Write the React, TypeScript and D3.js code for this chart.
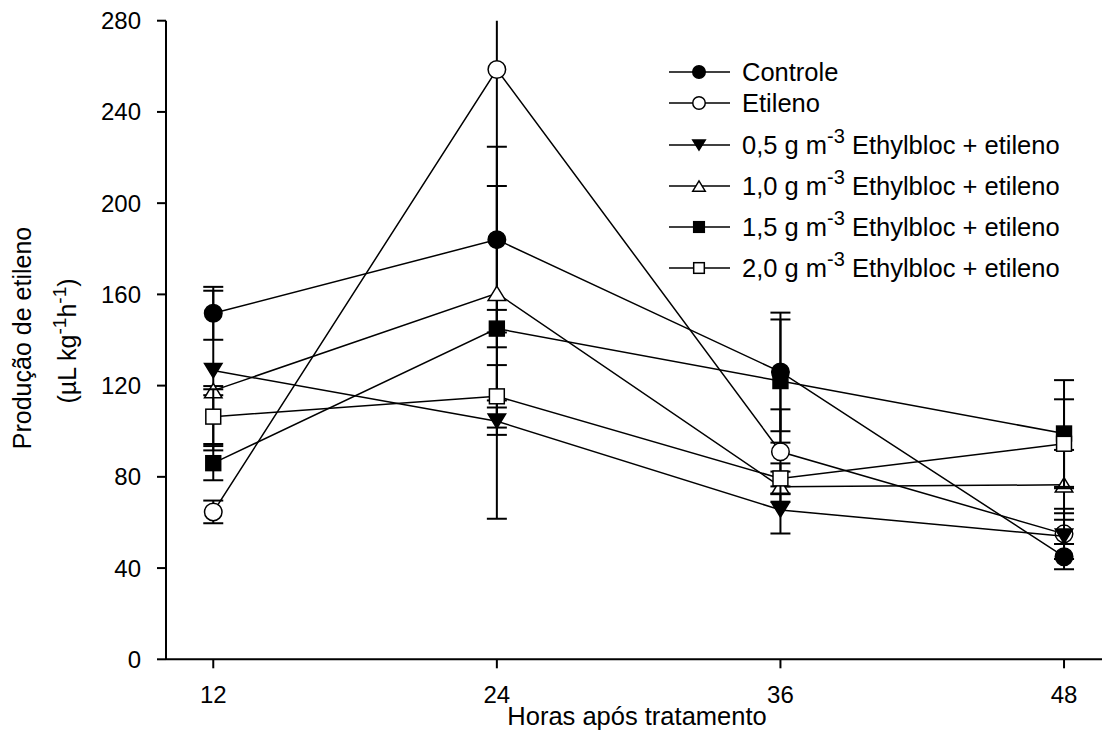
import React from "react";
import * as d3 from "d3";

// hours after treatment
const hours = [12, 24, 36, 48];
const xTicks = [12, 24, 36, 48];
const yTicks = [0, 40, 80, 120, 160, 200, 240, 280];

// ethylene production (uL kg-1 h-1) and standard errors
const controle = [151.7, 184, 126, 45];
const controleErr = [11.6, 40.7, 26, 5.5];
const etileno = [64.6, 258.6, 91, 55];
const etilenoErr = [5, 197, 18.6, 11];
const dose05 = [126.6, 104.4, 65.5, 54];
const dose05Err = [35, 6, 10.3, 10];
const dose10 = [117.8, 160.5, 75.7, 76.5];
const dose10Err = [2, 47, 6.6, 15.3];
const dose15 = [86, 145, 122, 99];
const dose15Err = [7.5, 8.2, 27, 23.4];
const dose20 = [106.4, 115.3, 79.3, 94.5];
const dose20Err = [12, 13.7, 6.6, 19.5];

const doses = ["0,5", "1,0", "1,5", "2,0"];

const series = [
  { name: "Controle", values: controle, err: controleErr, shape: "circle", fill: "#000" },
  { name: "Etileno", values: etileno, err: etilenoErr, shape: "circle", fill: "#fff" },
  { dose: doses[0], values: dose05, err: dose05Err, shape: "down", fill: "#000" },
  { dose: doses[1], values: dose10, err: dose10Err, shape: "up", fill: "#fff" },
  { dose: doses[2], values: dose15, err: dose15Err, shape: "square", fill: "#000" },
  { dose: doses[3], values: dose20, err: dose20Err, shape: "square", fill: "#fff" },
];

const font = "'Liberation Sans', Arial, sans-serif";

function Marker({ shape, fill, x, y, s }) {
  if (shape === "circle") {
    return <circle cx={x} cy={y} r={s / 2} fill={fill} stroke="#000" strokeWidth={1.5} />;
  }
  if (shape === "square") {
    const h = s * 0.85;
    return <rect x={x - h / 2} y={y - h / 2} width={h} height={h} fill={fill} stroke="#000" strokeWidth={1.5} />;
  }
  const w = s;
  const h = s * 0.82;
  const pts =
    shape === "up"
      ? [[x - w / 2, y + h / 2], [x + w / 2, y + h / 2], [x, y - h / 2]]
      : [[x - w / 2, y - h / 2], [x + w / 2, y - h / 2], [x, y + h / 2]];
  return <polygon points={pts.map((p) => p.join(",")).join(" ")} fill={fill} stroke="#000" strokeWidth={1.5} />;
}

export default function App() {
  const x = d3.scaleLinear().domain([10, 50]).range([166, 1111.3]);
  const y = d3.scaleLinear().domain([0, 280]).range([659.3, 20.7]);
  const line = d3
    .line()
    .x((d) => x(d[0]))
    .y((d) => y(d[1]));

  const legendY = [72, 103, 145, 186, 227, 268];

  return (
    <div style={{ position: "absolute", left: 0, top: 0 }}>
      <svg width={1102} height={736} style={{ display: "block", fontFamily: font }}>
        <defs>
          <clipPath id="plot">
            <rect x={150} y={y(280)} width={960} height={y(0) - y(280) + 10} />
          </clipPath>
        </defs>
        <rect width={1102} height={736} fill="#fff" />

        {/* axes */}
        <line x1={166} x2={166} y1={y(0)} y2={y(280)} stroke="#000" strokeWidth={2} />
        <line x1={166} x2={1102} y1={y(0)} y2={y(0)} stroke="#000" strokeWidth={2} />
        {yTicks.map((t) => (
          <g key={"y" + t}>
            <line x1={157} x2={166} y1={y(t)} y2={y(t)} stroke="#000" strokeWidth={2} />
            <text x={141} y={y(t) + 8.5} fontSize={24} textAnchor="end">
              {t}
            </text>
          </g>
        ))}
        {xTicks.map((t) => (
          <g key={"x" + t}>
            <line x1={x(t)} x2={x(t)} y1={y(0)} y2={y(0) + 9} stroke="#000" strokeWidth={2} />
            <text x={x(t)} y={703} fontSize={24} textAnchor="middle">
              {t}
            </text>
          </g>
        ))}

        <text x={637} y={725} fontSize={25.5} textAnchor="middle">
          Horas após tratamento
        </text>
        <text transform="translate(31,338) rotate(-90)" fontSize={25} textAnchor="middle">
          Produção de etileno
        </text>
        <text transform="translate(76,341) rotate(-90)" fontSize={25} textAnchor="middle">
          (µL kg
          <tspan fontSize={19} dy={-10}>-1</tspan>
          <tspan dy={10}>h</tspan>
          <tspan fontSize={19} dy={-10}>-1</tspan>
          <tspan dy={10}>)</tspan>
        </text>

        {/* series */}
        <g clipPath="url(#plot)">
          {series.map((s, i) => (
            <g key={i}>
              {hours.map((h, j) => {
                const lo = s.values[j] - s.err[j];
                const hi = s.values[j] + s.err[j];
                return (
                  <g key={j} stroke="#000" strokeWidth={2}>
                    <line x1={x(h)} x2={x(h)} y1={y(lo)} y2={y(hi)} />
                    <line x1={x(h) - 10} x2={x(h) + 10} y1={y(lo)} y2={y(lo)} />
                    {hi <= 280 && <line x1={x(h) - 10} x2={x(h) + 10} y1={y(hi)} y2={y(hi)} />}
                  </g>
                );
              })}
              <path
                d={line(hours.map((h, j) => [h, s.values[j]]))}
                fill="none"
                stroke="#000"
                strokeWidth={1.5}
              />
              {hours.map((h, j) => (
                <Marker key={j} shape={s.shape} fill={s.fill} x={x(h)} y={y(s.values[j])} s={17.5} />
              ))}
            </g>
          ))}
        </g>

        {/* legend */}
        {series.map((s, i) => (
          <g key={"l" + i}>
            <line x1={669} x2={730} y1={legendY[i]} y2={legendY[i]} stroke="#000" strokeWidth={1.5} />
            <Marker shape={s.shape} fill={s.fill} x={699} y={legendY[i]} s={12.5} />
            <text x={742} y={legendY[i] + 9} fontSize={25.5}>
              {s.name ? (
                s.name
              ) : (
                <>
                  {s.dose} g m
                  <tspan fontSize={20} dy={-11}>-3</tspan>
                  <tspan dy={11}> Ethylbloc + etileno</tspan>
                </>
              )}
            </text>
          </g>
        ))}
      </svg>
    </div>
  );
}
